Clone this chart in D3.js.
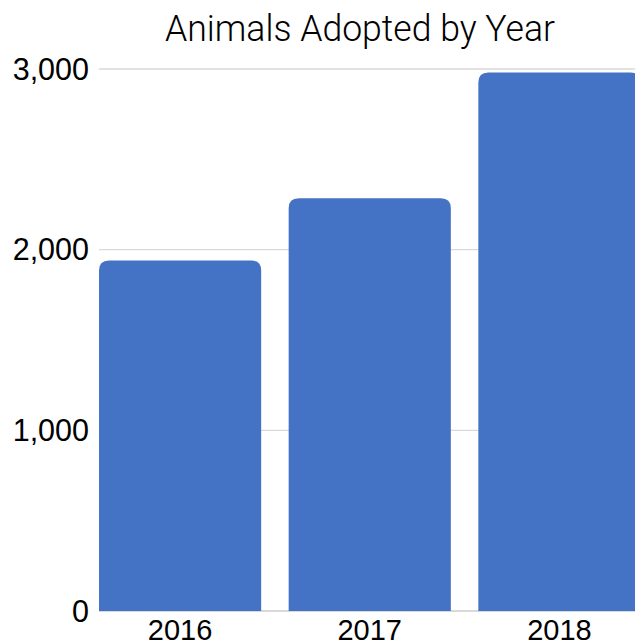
<!DOCTYPE html>
<html>
<head>
<meta charset="utf-8">
<script src="https://cdn.jsdelivr.net/npm/d3@7"></script>
<style>
  html, body { margin: 0; padding: 0; background: #fff; }
  svg { display: block; }
</style>
</head>
<body>
<svg id="chart" width="635" height="642"></svg>
<script>
const title = "Animals Adopted by Year";
const categories = ["2016", "2017", "2018"];
const values = [1940, 2285, 2980];
const yTicks = [0, 1000, 2000, 3000];

const svg = d3.select("#chart");
const W = 635, H = 642;
const plot = { left: 99, right: 640.5, top: 69, bottom: 611 };

const x = d3.scaleBand().domain(categories)
  .range([plot.left, plot.right]).paddingInner(0.145).paddingOuter(0);
const y = d3.scaleLinear().domain([0, 3000]).range([plot.bottom, plot.top]);

// gridlines
svg.append("g").selectAll("line").data(yTicks).join("line")
  .attr("x1", plot.left).attr("x2", W + 10)
  .attr("y1", d => y(d)).attr("y2", d => y(d))
  .attr("stroke", "#d9d9d9").attr("stroke-width", d => d === 0 ? 2 : 1.3);

// y labels
svg.append("g").selectAll("text").data(yTicks).join("text")
  .attr("x", 89).attr("y", d => y(d))
  .attr("dy", "0.35em")
  .attr("text-anchor", "end")
  .attr("font-family", "'Liberation Sans', Arial, sans-serif")
  .attr("font-size", 30.5)
  .attr("fill", "#000")
  .text(d => d3.format(",")(d));

// bars with rounded top corners
const r = 10;
function barPath(x0, w, yTop, yBot) {
  const rr = Math.min(r, w / 2, (yBot - yTop));
  return `M${x0},${yBot} L${x0},${yTop + rr} Q${x0},${yTop} ${x0 + rr},${yTop} ` +
         `L${x0 + w - rr},${yTop} Q${x0 + w},${yTop} ${x0 + w},${yTop + rr} L${x0 + w},${yBot} Z`;
}
svg.append("g").selectAll("path").data(categories).join("path")
  .attr("d", (c, i) => barPath(x(c), x.bandwidth(), y(values[i]), y(0)))
  .attr("fill", "#4472C4");

// x labels
svg.append("g").selectAll("text").data(categories).join("text")
  .attr("x", c => x(c) + x.bandwidth() / 2)
  .attr("y", 640)
  .attr("text-anchor", "middle")
  .attr("font-family", "'Liberation Sans', Arial, sans-serif")
  .attr("font-size", 29)
  .attr("fill", "#000")
  .text(c => c);

// title
svg.append("text")
  .attr("x", 165).attr("y", 41)
  .attr("font-family", "Roboto, 'DejaVu Sans', sans-serif")
  .attr("font-weight", 300)
  .attr("font-size", 37)
  .attr("textLength", 390)
  .attr("lengthAdjust", "spacingAndGlyphs")
  .attr("fill", "#000")
  .text(title);
</script>
</body>
</html>
